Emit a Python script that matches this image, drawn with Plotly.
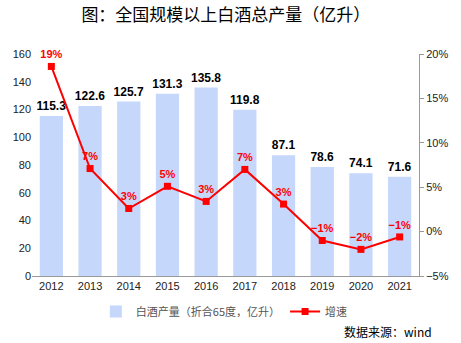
import plotly.graph_objects as go

years = ["2012", "2013", "2014", "2015", "2016", "2017", "2018", "2019", "2020", "2021"]
output = [115.3, 122.6, 125.7, 131.3, 135.8, 119.8, 87.1, 78.6, 74.1, 71.6]
growth = [18.6, 7.1, 2.6, 5.1, 3.4, 7.0, 3.1, -1.0, -2.0, -0.6]
growth_labels = ["19%", "7%", "3%", "5%", "3%", "7%", "3%", "−1%", "−2%", "−1%"]
left_ticks = [0, 20, 40, 60, 80, 100, 120, 140, 160]
right_ticks = [-5, 0, 5, 10, 15, 20]
right_tick_labels = ["−5%", "0%", "5%", "10%", "15%", "20%"]

CJK = "Noto Sans CJK SC"
LAT = "Liberation Sans, Arial"

fig = go.Figure()
fig.add_trace(go.Bar(
    x=years, y=output, name="白酒产量（折合65度，亿升）",
    marker=dict(color="#c5d7fb", line=dict(width=0)),
    width=0.6,
    text=[f"{v:.1f}" for v in output], textposition="outside",
    constraintext="none",
    textfont=dict(family=LAT, size=12, color="#000000", weight="bold"),
    cliponaxis=False,
))
fig.add_trace(go.Scatter(
    x=years, y=growth, name="增速", yaxis="y2", mode="lines+markers+text",
    line=dict(color="#ff0000", width=2),
    marker=dict(symbol="square", size=7, color="#ff0000"),
    text=growth_labels, textposition="top center",
    textfont=dict(family=LAT, size=11, color="#ff0000", weight="bold"),
    cliponaxis=False,
))

fig.update_layout(
    width=461, height=343,
    margin=dict(l=32, r=35, t=54, b=67),
    plot_bgcolor="white", paper_bgcolor="white",
    showlegend=True,
    title=dict(text="图：全国规模以上白酒总产量（亿升）", x=0.49, xanchor="center",
               y=0.957, yanchor="middle",
               font=dict(family=CJK, size=17, color="#000000")),
    xaxis=dict(type="category", showline=True, linecolor="#999999", linewidth=1,
               ticks="", tickfont=dict(family=LAT, size=11, color="#222222"),
               showgrid=False, range=[-0.5, 9.5]),
    yaxis=dict(range=[0, 160], tickvals=left_ticks, showgrid=False, zeroline=False,
               showline=False, ticks="", tickfont=dict(family=LAT, size=11, color="#222222")),
    yaxis2=dict(range=[-5, 20], tickvals=right_ticks, ticktext=right_tick_labels,
                overlaying="y", side="right", showgrid=False, zeroline=False,
                showline=True, linecolor="#999999", linewidth=1,
                ticks="outside", ticklen=4, tickcolor="#999999",
                tickfont=dict(family=LAT, size=11, color="#222222")),
    legend=dict(orientation="h", x=0.165, xanchor="left", y=-0.16, yanchor="middle",
                font=dict(family=CJK, size=11, color="#555555"),
                itemwidth=30, bgcolor="rgba(0,0,0,0)"),
    annotations=[dict(text="数据来源：wind", xref="paper", yref="paper",
                      x=1.038, y=-0.25, xanchor="right", yanchor="middle", showarrow=False,
                      font=dict(family=CJK, size=12, color="#000000"))],
)

fig.write_html("out.html")
